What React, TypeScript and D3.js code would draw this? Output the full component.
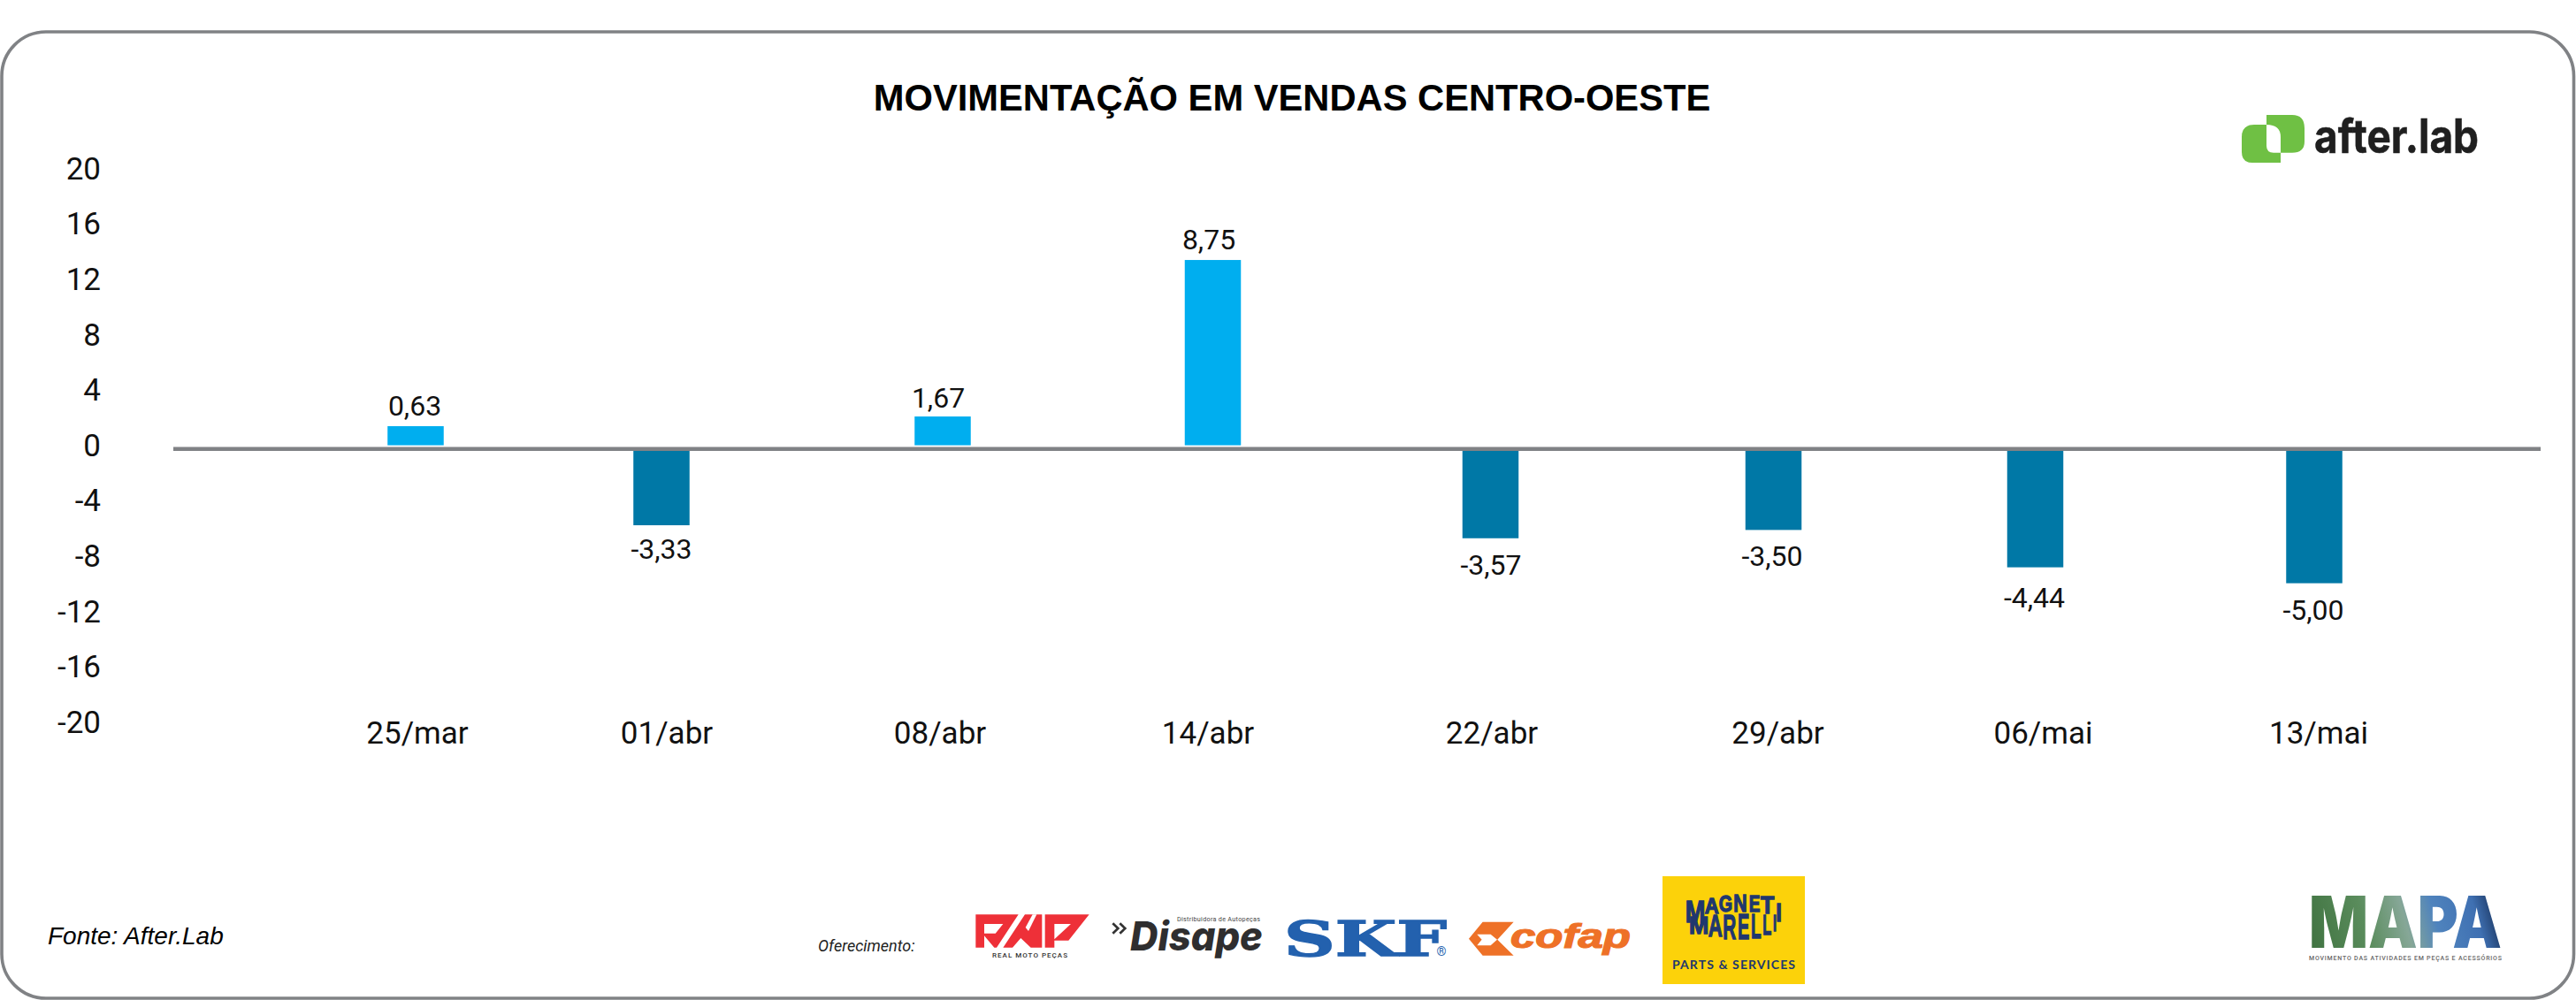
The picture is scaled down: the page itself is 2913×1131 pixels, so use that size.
import { useEffect, useRef } from "react";
import * as d3 from "d3";

// chart data
const categories = ["25/mar", "01/abr", "08/abr", "14/abr", "22/abr", "29/abr", "06/mai", "13/mai"];
const printedValues = [0.63, -3.33, 1.67, 8.75, -3.57, -3.5, -4.44, -5];
// the drawn bars do not follow the printed numbers, these are read against the left axis
const barValues = [1.38, -5.78, 2.08, 13.39, -6.72, -6.12, -8.82, -9.97];
const yTicks = [20, 16, 12, 8, 4, 0, -4, -8, -12, -16, -20];

// layout, the columns in the picture are not evenly spaced
const barCenters = [470, 748, 1066, 1371.5, 1685.5, 2005.5, 2301.5, 2617];
const valueCenters = [469, 748, 1061, 1367, 1686, 2004, 2300.5, 2616];
const tickCenters = [472, 754, 1063, 1366, 1687, 2010.5, 2310.5, 2622];
const labelNudge = [-12, -3, -10, -12, 0, 0, 4, 0];

const W = 2913;
const H = 1131;
const BAR_W = 63.5;
const UI_FONT = "Roboto, sans-serif";
const GREY = "#808285";

const y = d3.scaleLinear().domain([-20, 20]).range([816.6, 190.6]);
const axisY = y(0) + 4.2;
const fmt = d3.formatLocale({ decimal: ",", thousands: ".", grouping: [3], currency: ["", ""], minus: "-" }).format(".2f");

const marelliTop: [string, number, number, number, number][] = [
    ["M", 32, 100, 55, 130],
    ["A", 98, 146, 45, 98],
    ["G", 146, 192, 37, 92],
    ["N", 196, 242, 33, 92],
    ["E", 248, 286, 35, 92],
    ["T", 288, 334, 42, 100],
    ["I", 340, 360, 62, 125],
];
const marelliBottom: [string, number, number, number, number][] = [
    ["M", 45, 112, 108, 168],
    ["A", 110, 158, 103, 178],
    ["R", 160, 205, 102, 186],
    ["E", 210, 250, 100, 187],
    ["L", 255, 290, 100, 184],
    ["L", 295, 325, 103, 172],
    ["I", 330, 342, 103, 158],
];

function Logos() {
    return (
        <g>
            {/* after.lab */}
            <path fill="#6fc044" fillRule="evenodd" d="M2563 130H2592Q2606 130 2606 145V160Q2606 172.7 2592 172.7H2579V184H2547Q2535 184 2535 172V155Q2535 141 2549 141H2563ZM2563 141V165Q2563 172.7 2571 172.7H2579V155Q2579 141 2563 141Z" />
            <text x={2617} y={173} fontFamily="Inter, sans-serif" fontWeight={700} fontSize={53} fill="#1f1f1f" stroke="#1f1f1f" strokeWidth={0.6} textLength={186} lengthAdjust="spacingAndGlyphs">after.lab</text>

            {/* RMP */}
            <g transform="translate(1095,1025) scale(0.3333)" fill="#ee3038" fillRule="evenodd">
                <path d="M25 28H170L96 140H88L54 100V140H25ZM54 60H118L92 92H54Z" />
                <path d="M118 140L192 28H250V140H212L178 108L150 140Z" />
                <path d="M218 28L194 72L204 84L232 28Z" fill="#fff" />
                <path d="M256 28H410L340 116H292V140H260V28ZM292 60V112L348 60Z" />
            </g>
            <text x={1122} y={1083} fontFamily={UI_FONT} fontSize={8} fontWeight={500} fill="#333" textLength={85} lengthAdjust="spacing">REAL MOTO PEÇAS</text>

            {/* Disape */}
            <g fill="none" stroke="#333" strokeWidth={8} transform="translate(1095,1025) scale(0.3333)">
                <path d="M490 58L508 75L490 92" />
                <path d="M514 58L532 75L514 92" />
            </g>
            <text x={1278} y={1075} fontFamily="Inter, sans-serif" fontWeight={800} fontStyle="italic" fontSize={45} fill="#2f2e2f" textLength={150} lengthAdjust="spacingAndGlyphs">Disape</text>
            <text x={1331} y={1042} fontFamily={UI_FONT} fontSize={7.2} fill="#444" textLength={94} lengthAdjust="spacing">Distribuidora de Autopeças</text>

            {/* SKF */}
            <text x={1452} y={1081} fontFamily="'DejaVu Serif', serif" fontWeight={700} fontSize={55} fill="#2361ae" stroke="#2361ae" strokeWidth={1.4} textLength={184} lengthAdjust="spacingAndGlyphs">SKF</text>
            <text x={1630} y={1081} textAnchor="middle" fontFamily={UI_FONT} fontSize={14} fill="#2361ae">®</text>

            {/* cofap */}
            <g transform="translate(1445,1030) scale(0.3333)">
                <path fill="#ee7127" d="M648 95L695 38H800L745 98L800 152H695Z" />
                <path fill="#fff" d="M676 80H722L744 98L722 118H676L692 98Z" />
            </g>
            <text x={1708} y={1072} fontFamily="'Liberation Sans', sans-serif" fontWeight={700} fontStyle="italic" fontSize={38} fill="#ee7127" stroke="#ee7127" strokeWidth={1.2} textLength={136} lengthAdjust="spacingAndGlyphs">cofap</text>

            {/* Magneti Marelli */}
            <rect x={1880} y={991} width={161} height={122} fill="#fcd20a" />
            <g transform="translate(1895,1000) scale(0.3333)" fontFamily="'Liberation Sans Narrow', 'Liberation Sans', sans-serif" fontWeight={700} fill="#20376f" stroke="#20376f" strokeWidth={4}>
                {[...marelliTop, ...marelliBottom].map(([ch, x0, x1, top, bottom], i) => (
                    <text key={i} x={x0} y={bottom} fontSize={(bottom - top) / 0.716} textLength={x1 - x0} lengthAdjust="spacingAndGlyphs">{ch}</text>
                ))}
            </g>
            <text x={1891} y={1096} fontFamily="Lato, sans-serif" fontWeight={700} fontSize={14} fill="#20376f" textLength={139} lengthAdjust="spacing">PARTS &amp; SERVICES</text>

            {/* MAPA */}
            <defs>
                <linearGradient id="mapaFill" x1="2611" y1="1072" x2="2829" y2="1013" gradientUnits="userSpaceOnUse">
                    <stop offset="0" stopColor="#3f7240" />
                    <stop offset="0.3" stopColor="#5a8c5c" />
                    <stop offset="0.5" stopColor="#86a797" />
                    <stop offset="0.65" stopColor="#4f83bd" />
                    <stop offset="0.85" stopColor="#3f70b2" />
                    <stop offset="1" stopColor="#0f2244" />
                </linearGradient>
            </defs>
            <text x={2611} y={1072} fontFamily="Inter, sans-serif" fontWeight={900} fontSize={81} fill="url(#mapaFill)" textLength={218} lengthAdjust="spacingAndGlyphs">MAPA</text>
            <text x={2611} y={1086} fontFamily={UI_FONT} fontWeight={500} fontSize={7} fill="#666" textLength={218} lengthAdjust="spacing">MOVIMENTO DAS ATIVIDADES EM PEÇAS E ACESSÓRIOS</text>
        </g>
    );
}

export default function App() {
    const plotRef = useRef<SVGGElement | null>(null);

    useEffect(() => {
        const g = d3.select(plotRef.current);
        g.selectAll("*").remove();

        const barX = d3.scaleOrdinal<string, number>().domain(categories).range(barCenters);
        const valueX = d3.scaleOrdinal<string, number>().domain(categories).range(valueCenters);
        const tickX = d3.scaleOrdinal<string, number>().domain(categories).range(tickCenters);

        const rows = categories.map((name, i) => ({ name, value: printedValues[i], bar: barValues[i], nudge: labelNudge[i] }));

        // left axis, plain hyphen on the negative ticks
        const left = g.append("g")
            .attr("transform", "translate(114,1)")
            .call(d3.axisLeft(y).tickValues(yTicks).tickSize(0).tickPadding(0).offset(0).tickFormat(d => String(d)));
        left.select(".domain").remove();
        left.selectAll("text").attr("font-family", UI_FONT).attr("font-size", 35).attr("fill", "#111");

        // month labels
        const bottom = g.append("g")
            .attr("transform", "translate(0,816)")
            .call(d3.axisBottom(tickX as any).tickSize(0).tickPadding(0).offset(0));
        bottom.select(".domain").remove();
        bottom.selectAll("text").attr("font-family", UI_FONT).attr("font-size", 35).attr("fill", "#111");

        g.selectAll("rect.bar")
            .data(rows)
            .join("rect")
            .attr("class", "bar")
            .attr("x", d => barX(d.name) - BAR_W / 2)
            .attr("width", BAR_W)
            .attr("y", d => (d.bar >= 0 ? y(d.bar) : axisY))
            .attr("height", d => (d.bar >= 0 ? y(0) - y(d.bar) : y(d.bar) - axisY))
            .attr("fill", d => (d.bar >= 0 ? "#00aeef" : "#0078a6"));

        g.append("line")
            .attr("x1", 196)
            .attr("x2", 2873)
            .attr("y1", axisY)
            .attr("y2", axisY)
            .attr("stroke", GREY)
            .attr("stroke-width", 4.6);

        g.selectAll("text.value")
            .data(rows)
            .join("text")
            .attr("class", "value")
            .attr("x", d => valueX(d.name))
            .attr("y", d => (d.bar >= 0 ? y(d.bar) + d.nudge : y(d.bar) + 41 + d.nudge))
            .attr("text-anchor", "middle")
            .attr("font-family", UI_FONT)
            .attr("font-size", 32)
            .attr("fill", "#111")
            .text(d => fmt(d.value));
    }, []);

    return (
        <svg width={W} height={H} viewBox={`0 0 ${W} ${H}`} style={{ position: "absolute", left: 0, top: 0, display: "block" }}>
            <rect width={W} height={H} fill="#fff" />
            <rect x={2} y={36} width={2908.5} height={1093} rx={50} ry={50} fill="none" stroke={GREY} strokeWidth={3.6} />
            <text x={1461} y={125} textAnchor="middle" fontFamily="'Liberation Sans', Arial, sans-serif" fontWeight={700} fontSize={41.7} fill="#000">MOVIMENTAÇÃO EM VENDAS CENTRO-OESTE</text>
            <g ref={plotRef} />
            <text x={54} y={1068} fontFamily="'Liberation Sans', Arial, sans-serif" fontStyle="italic" fontSize={28} fill="#000">Fonte: After.Lab</text>
            <text x={925} y={1076} fontFamily={UI_FONT} fontStyle="italic" fontSize={18} fill="#222">Oferecimento:</text>
            <Logos />
        </svg>
    );
}
